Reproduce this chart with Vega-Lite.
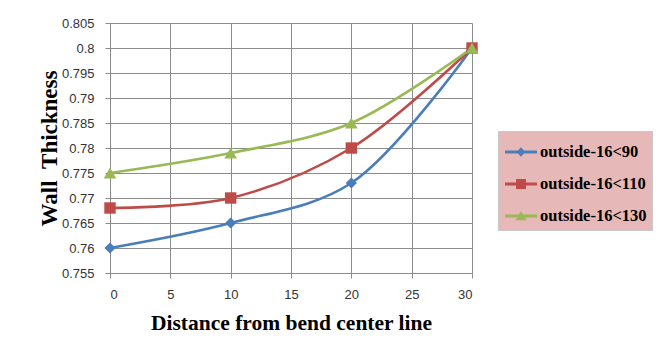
{
  "$schema": "https://vega.github.io/schema/vega-lite/v6.json",
  "autosize": "none",
  "width": 362,
  "height": 250,
  "padding": {"left": 110, "top": 23, "right": 197, "bottom": 82},
  "background": "white",
  "data": {
    "values": [
      {"series": "outside-16<90", "x": 0, "y": 0.760},
      {"series": "outside-16<90", "x": 10, "y": 0.765},
      {"series": "outside-16<90", "x": 20, "y": 0.773},
      {"series": "outside-16<90", "x": 30, "y": 0.800},
      {"series": "outside-16<110", "x": 0, "y": 0.768},
      {"series": "outside-16<110", "x": 10, "y": 0.770},
      {"series": "outside-16<110", "x": 20, "y": 0.780},
      {"series": "outside-16<110", "x": 30, "y": 0.800},
      {"series": "outside-16<130", "x": 0, "y": 0.775},
      {"series": "outside-16<130", "x": 10, "y": 0.779},
      {"series": "outside-16<130", "x": 20, "y": 0.785},
      {"series": "outside-16<130", "x": 30, "y": 0.800}
    ]
  },
  "encoding": {
    "x": {
      "field": "x", "type": "quantitative",
      "scale": {"domain": [0, 30], "nice": false, "zero": false},
      "axis": {
        "values": [0, 5, 10, 15, 20, 25, 30],
        "title": "Distance from bend center line",
        "titleFont": "Liberation Serif", "titleFontWeight": "bold", "titleFontSize": 21.5, "titleColor": "#000",
        "titleBaseline": "alphabetic", "titleY": 56, "titleAnchor": "middle",
        "labelFont": "Liberation Sans", "labelFontSize": 13, "labelColor": "#333",
        "labelBaseline": "alphabetic", "labelPadding": 20,
        "tickSize": 5, "tickColor": "#8c8c8c", "domainColor": "#8c8c8c",
        "gridColor": "#8c8c8c", "grid": true
      }
    },
    "y": {
      "field": "y", "type": "quantitative",
      "scale": {"domain": [0.755, 0.805], "nice": false, "zero": false},
      "axis": {
        "values": [0.755, 0.76, 0.765, 0.77, 0.775, 0.78, 0.785, 0.79, 0.795, 0.8, 0.805],
        "format": ".3~f",
        "title": "Wall\u00a0\u00a0Thickness",
        "titleFont": "Liberation Serif", "titleFontWeight": "bold", "titleFontSize": 23, "titleColor": "#000",
        "titleBaseline": "alphabetic", "titleX": -54, "titleAngle": -90,
        "labelFont": "Liberation Sans", "labelFontSize": 13, "labelColor": "#333",
        "labelPadding": 11,
        "tickSize": 5, "tickColor": "#8c8c8c", "domainColor": "#8c8c8c",
        "gridColor": "#8c8c8c", "grid": true
      }
    }
  },
  "layer": [
    {
      "mark": {"type": "line", "interpolate": "catmull-rom", "strokeWidth": 2.6},
      "encoding": {
        "color": {
          "field": "series", "type": "nominal",
          "scale": {
            "domain": ["outside-16<90", "outside-16<110", "outside-16<130"],
            "range": ["#4a7ebb", "#be4b48", "#98b954"]
          },
          "legend": {
            "orient": "none", "legendX": 388, "legendY": 108, "title": null,
            "fillColor": "#e6b9b8", "strokeColor": "#c8c8c8",
            "padding": 5, "symbolOffset": 2, "labelOffset": 3, "rowPadding": 7,
            "symbolSize": 1024, "symbolStrokeWidth": 0, "symbolType": "square",
            "labelFont": "Liberation Serif", "labelFontWeight": "bold", "labelFontSize": 16.5, "labelColor": "#000",
            "encode": {
              "symbols": {
                "update": {
                  "shape": {"signal": "datum.value === 'outside-16<90' ? 'M-1,-0.09H1V0.09H-1ZM0,-0.3L0.27,0L0,0.3L-0.27,0Z' : datum.value === 'outside-16<110' ? 'M-1,-0.09H1V0.09H-1ZM-0.31,-0.31H0.31V0.31H-0.31Z' : 'M-1,-0.09H1V0.09H-1ZM0,-0.32L0.35,0.27H-0.35Z'"},
                  "size": {"value": 1024},
                  "fill": {"scale": "color", "field": "value"},
                  "stroke": {"value": "transparent"},
                  "strokeWidth": {"value": 0},
                  "opacity": {"value": 1}
                }
              }
            }
          }
        }
      }
    },
    {
      "transform": [{"filter": "datum.series === 'outside-16<90'"}],
      "mark": {"type": "point", "filled": true, "opacity": 1, "shape": "diamond", "size": 125},
      "encoding": {"color": {"field": "series", "type": "nominal", "legend": null}}
    },
    {
      "transform": [{"filter": "datum.series === 'outside-16<110'"}],
      "mark": {"type": "point", "filled": true, "opacity": 1, "shape": "square", "size": 130},
      "encoding": {"color": {"field": "series", "type": "nominal", "legend": null}}
    },
    {
      "transform": [{"filter": "datum.series === 'outside-16<130'"}],
      "mark": {"type": "point", "filled": true, "opacity": 1, "shape": "triangle-up", "size": 160},
      "encoding": {"color": {"field": "series", "type": "nominal", "legend": null}}
    }
  ],
  "config": {
    "view": {"stroke": null}
  }
}
